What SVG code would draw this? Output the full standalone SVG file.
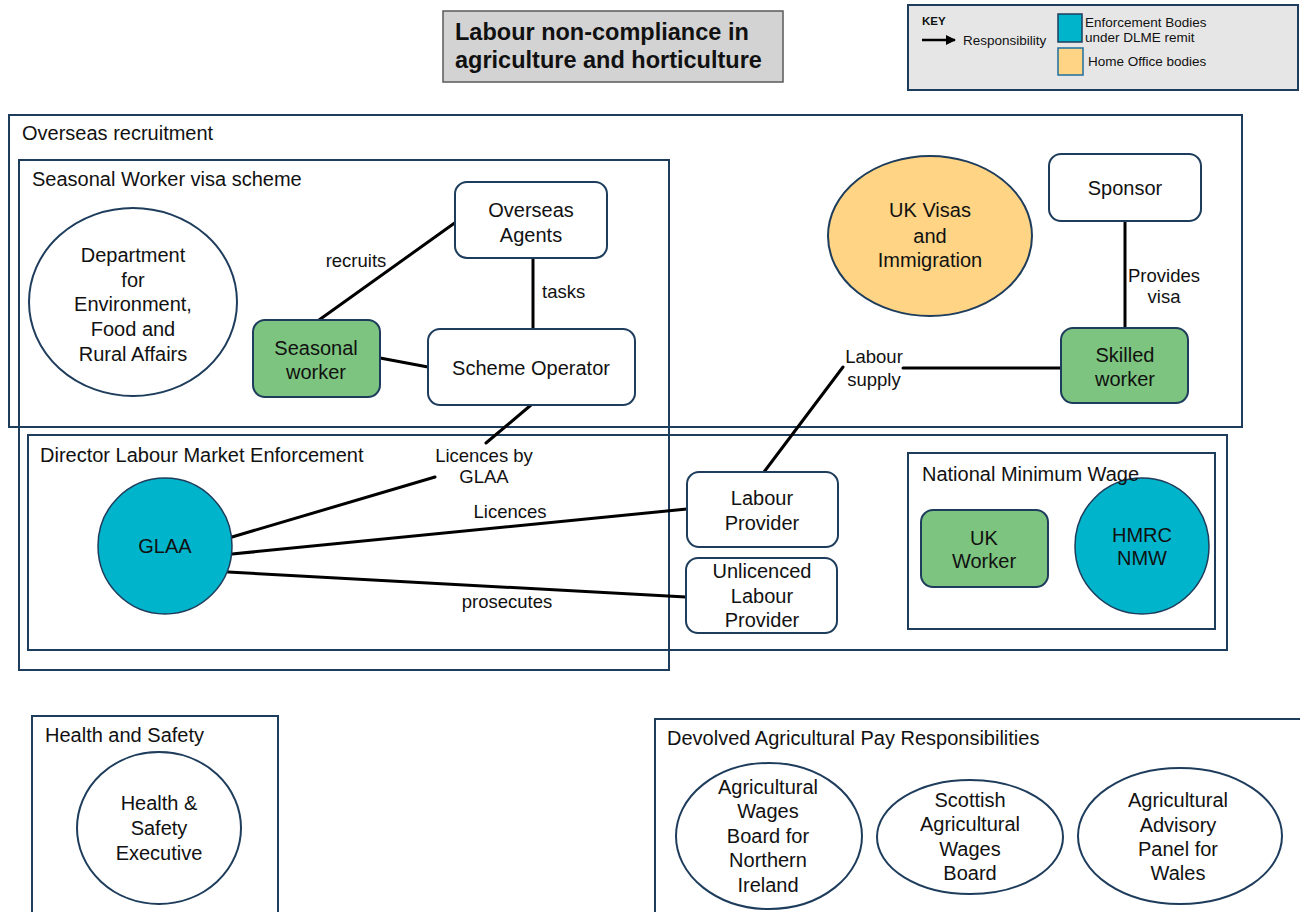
<svg xmlns="http://www.w3.org/2000/svg" width="1300" height="912" viewBox="0 0 1300 912">
<defs>
<style>
text{font-family:"Liberation Sans",Arial,sans-serif;fill:#111}
.t{font-size:20px;text-anchor:middle}
.lbl{font-size:20px}
.e{font-size:18.5px;text-anchor:middle}
.k{font-size:13.5px}
.box{fill:none;stroke:#1e3d5c;stroke-width:2}
.node{fill:#fff;stroke:#1e3d5c;stroke-width:2}
.green{fill:#7cc47f;stroke:#1e3d5c;stroke-width:2}
.blue{fill:#00b4cc;stroke:#1e3d5c;stroke-width:1.5}
.orange{fill:#ffd484;stroke:#1e3d5c;stroke-width:2}
.c{fill:none;stroke:#000;stroke-width:3;stroke-linecap:round}
</style>
<marker id="arr" viewBox="0 0 10 10" refX="9" refY="5" markerWidth="4" markerHeight="4" orient="auto">
<path d="M0,0 L10,5 L0,10 z" fill="#000"/>
</marker>
</defs>
<rect width="1300" height="912" fill="#fff"/>

<g id="title">
<rect x="443" y="11" width="340" height="71" fill="#d3d3d3" stroke="#5a5a5a" stroke-width="1.5"/>
<text x="455" y="40" style="font-size:23.5px;font-weight:bold">Labour non-compliance in</text>
<text x="455" y="68" style="font-size:23.5px;font-weight:bold">agriculture and horticulture</text>
</g>

<g id="key">
<rect x="908" y="5" width="390" height="85" fill="#e6e6e6" stroke="#1e3d5c" stroke-width="2"/>
<text x="922" y="25" style="font-size:11.5px;font-weight:bold">KEY</text>
<line x1="922" y1="40" x2="955" y2="40" stroke="#000" stroke-width="2.5" marker-end="url(#arr)"/>
<text x="963" y="45" class="k">Responsibility</text>
<rect x="1058" y="14" width="24" height="28" class="blue"/>
<rect x="1058" y="48" width="25" height="27" fill="#ffd484" stroke="#1e6fa0" stroke-width="1.5"/>
<text x="1085" y="27" class="k">Enforcement Bodies</text>
<text x="1085" y="42" class="k">under DLME remit</text>
<text x="1088" y="66" class="k">Home Office bodies</text>
</g>

<g id="overseas-recruitment">
<rect x="9" y="115" width="1233" height="312" class="box"/>
<text x="22" y="140" class="lbl">Overseas recruitment</text>
</g>
<g id="seasonal-scheme">
<rect x="19" y="160" width="650" height="510" class="box"/>
<text x="32" y="186" class="lbl">Seasonal Worker visa scheme</text>
</g>
<g id="dlme">
<rect x="28" y="435" width="1199" height="215" class="box"/>
<text x="40" y="462" class="lbl">Director Labour Market Enforcement</text>
</g>
<g id="health-safety-box">
<rect x="32" y="716" width="246" height="210" class="box"/>
<text x="45" y="742" class="lbl">Health and Safety</text>
</g>
<g id="devolved-box">
<rect x="655" y="719" width="660" height="210" class="box"/>
<text x="667" y="745" class="lbl">Devolved Agricultural Pay Responsibilities</text>
</g>

<g id="connectors">
<line x1="319" y1="320" x2="456" y2="222" class="c"/>
<line x1="533" y1="258" x2="533" y2="329" class="c"/>
<line x1="380" y1="358" x2="428" y2="367" class="c"/>
<line x1="531" y1="405" x2="486" y2="443" class="c"/>
<line x1="435" y1="477" x2="232" y2="537" class="c"/>
<line x1="232" y1="554" x2="687" y2="509" class="c"/>
<line x1="228" y1="572" x2="686" y2="597" class="c"/>
<line x1="764" y1="472" x2="843" y2="367" class="c"/>
<line x1="903" y1="368" x2="1061" y2="368" class="c"/>
<line x1="1125" y1="221" x2="1125" y2="328" class="c"/>
<text x="356" y="267" class="e">recruits</text>
<text x="542" y="298" style="font-size:18.5px">tasks</text>
<text x="484" y="462" class="e">Licences by</text>
<text x="484" y="483" class="e">GLAA</text>
<text x="510" y="518" class="e">Licences</text>
<text x="507" y="608" class="e">prosecutes</text>
<text x="874" y="363" class="e">Labour</text>
<text x="874" y="386" class="e">supply</text>
<text x="1164" y="282" class="e">Provides</text>
<text x="1164" y="303" class="e">visa</text>
</g>

<g id="defra">
<ellipse cx="133" cy="302" rx="104" ry="94" class="node"/>
<text x="133" y="262" class="t">Department</text>
<text x="133" y="287" class="t">for</text>
<text x="133" y="311" class="t">Environment,</text>
<text x="133" y="336" class="t">Food and</text>
<text x="133" y="361" class="t">Rural Affairs</text>
</g>
<g id="overseas-agents">
<rect x="455" y="182" width="152" height="76" rx="12" class="node"/>
<text x="531" y="217" class="t">Overseas</text>
<text x="531" y="242" class="t">Agents</text>
</g>
<g id="scheme-operator">
<rect x="428" y="329" width="207" height="76" rx="12" class="node"/>
<text x="531" y="375" class="t">Scheme Operator</text>
</g>
<g id="seasonal-worker">
<rect x="253" y="320" width="127" height="77" rx="12" class="green"/>
<text x="316" y="355" class="t">Seasonal</text>
<text x="316" y="379" class="t">worker</text>
</g>
<g id="ukvi">
<ellipse cx="930" cy="236" rx="102" ry="80" class="orange"/>
<text x="930" y="217" class="t">UK Visas</text>
<text x="930" y="243" class="t">and</text>
<text x="930" y="267" class="t">Immigration</text>
</g>
<g id="sponsor">
<rect x="1049" y="154" width="152" height="67" rx="12" class="node"/>
<text x="1125" y="195" class="t">Sponsor</text>
</g>
<g id="skilled-worker">
<rect x="1061" y="328" width="127" height="75" rx="12" class="green"/>
<text x="1125" y="362" class="t">Skilled</text>
<text x="1125" y="386" class="t">worker</text>
</g>
<g id="glaa">
<ellipse cx="165" cy="546" rx="67" ry="68" class="blue"/>
<text x="165" y="553" class="t">GLAA</text>
</g>
<g id="labour-provider">
<rect x="687" y="472" width="151" height="75" rx="12" class="node"/>
<text x="762" y="505" class="t">Labour</text>
<text x="762" y="530" class="t">Provider</text>
</g>
<g id="unlicenced-provider">
<rect x="686" y="558" width="151" height="75" rx="12" class="node"/>
<text x="762" y="578" class="t">Unlicenced</text>
<text x="762" y="603" class="t">Labour</text>
<text x="762" y="627" class="t">Provider</text>
</g>
<g id="nmw">
<rect x="908" y="453" width="307" height="176" class="box"/>
<g id="uk-worker">
<rect x="921" y="510" width="127" height="77" rx="12" class="green"/>
<text x="984" y="545" class="t">UK</text>
<text x="984" y="568" class="t">Worker</text>
</g>
<g id="hmrc">
<ellipse cx="1142" cy="546" rx="67" ry="68" class="blue"/>
<text x="1142" y="542" class="t">HMRC</text>
<text x="1142" y="565" class="t">NMW</text>
</g>
<text x="922" y="481" class="lbl">National Minimum Wage</text>
</g>
<g id="hse">
<ellipse cx="159" cy="828" rx="82" ry="76" class="node"/>
<text x="159" y="810" class="t">Health &amp;</text>
<text x="159" y="835" class="t">Safety</text>
<text x="159" y="860" class="t">Executive</text>
</g>
<g id="awb-ni">
<ellipse cx="769" cy="836" rx="93" ry="73" class="node"/>
<text x="768" y="794" class="t">Agricultural</text>
<text x="768" y="818" class="t">Wages</text>
<text x="768" y="843" class="t">Board for</text>
<text x="768" y="867" class="t">Northern</text>
<text x="768" y="892" class="t">Ireland</text>
</g>
<g id="sawb">
<ellipse cx="970" cy="837" rx="93" ry="57" class="node"/>
<text x="970" y="807" class="t">Scottish</text>
<text x="970" y="831" class="t">Agricultural</text>
<text x="970" y="856" class="t">Wages</text>
<text x="970" y="880" class="t">Board</text>
</g>
<g id="aap-wales">
<ellipse cx="1180" cy="836" rx="102" ry="68" class="node"/>
<text x="1178" y="807" class="t">Agricultural</text>
<text x="1178" y="832" class="t">Advisory</text>
<text x="1178" y="856" class="t">Panel for</text>
<text x="1178" y="880" class="t">Wales</text>
</g>
</svg>
